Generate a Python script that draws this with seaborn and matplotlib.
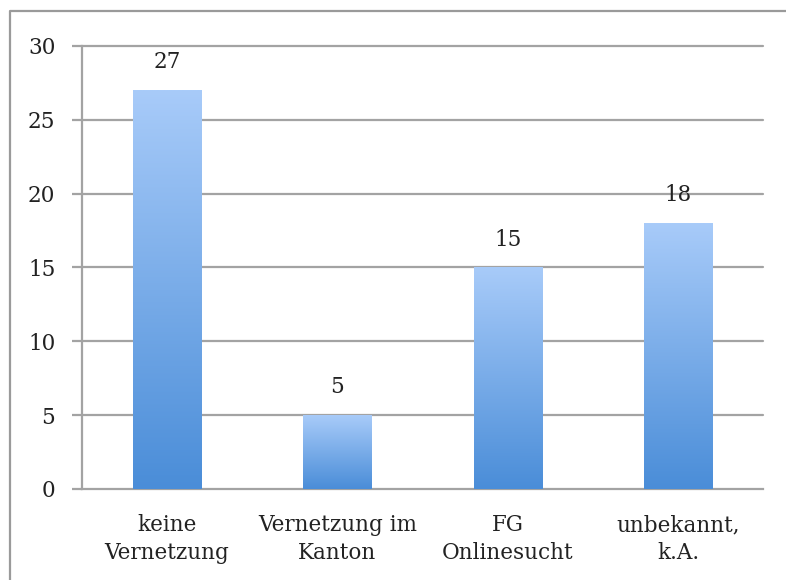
"""Recreate bar chart: Vernetzung"""
import matplotlib
matplotlib.use("Agg")
import matplotlib.pyplot as plt
import numpy as np
import pandas as pd
import seaborn as sns
from matplotlib.colors import LinearSegmentedColormap
from matplotlib.lines import Line2D

categories = ["keine\nVernetzung", "Vernetzung im\nKanton", "FG\nOnlinesucht", "unbekannt,\nk.A."]
values = [27, 5, 15, 18]
y_ticks = [0, 5, 10, 15, 20, 25, 30]

GRID = "#a3a3a3"
TOP_COLOR = "#a8cbf9"
BOTTOM_COLOR = "#4a8dd8"
FS = 15.5

sns.set_style("white")
plt.rcParams["font.family"] = ["DejaVu Serif"]

df = pd.DataFrame({"cat": categories, "val": values})

fig = plt.figure(figsize=(7.86, 5.80), dpi=100)
ax = fig.add_axes([0.104, 0.157, 0.867, 0.764])

sns.barplot(data=df, x="cat", y="val", width=0.4, color=BOTTOM_COLOR, ax=ax, zorder=3)

# vertical gradient for each bar
cmap = LinearSegmentedColormap.from_list("grad", [BOTTOM_COLOR, TOP_COLOR])
grad = np.linspace(0, 1, 256).reshape(-1, 1)
for patch in ax.patches:
    x0, y0 = patch.get_x(), patch.get_y()
    w, h = patch.get_width(), patch.get_height()
    im = ax.imshow(grad, cmap=cmap, origin="lower", aspect="auto",
                   extent=[x0, x0 + w, y0, y0 + h], zorder=4)
    im.set_clip_path(patch)
    patch.set_facecolor("none")
    patch.set_edgecolor("none")
    ax.annotate(f"{int(h)}", (x0 + w / 2, h), xytext=(0, 12), textcoords="offset points",
                ha="center", va="bottom", fontsize=FS, color="#222222")

ax.set_xlim(-0.5, len(categories) - 0.5)
ax.set_ylim(0, 30)
ax.set_yticks(y_ticks)
ax.set_yticklabels([str(t) for t in y_ticks])
ax.set_xlabel("")
ax.set_ylabel("")

for t in y_ticks[1:]:
    ax.axhline(t, color=GRID, lw=1.6, zorder=1, clip_on=False)

for side in ["top", "right"]:
    ax.spines[side].set_visible(False)
for side in ["left", "bottom"]:
    ax.spines[side].set_color(GRID)
    ax.spines[side].set_linewidth(1.6)

ax.set_xticks(np.arange(-0.5, len(categories)), minor=True)
ax.tick_params(axis="x", which="major", length=0, pad=18, labelsize=FS, colors="#222222")
ax.tick_params(axis="x", which="minor", length=7, width=1.6, color=GRID, direction="out")
ax.tick_params(axis="y", length=7, width=1.6, color=GRID, direction="out", pad=12,
               labelsize=FS, labelcolor="#222222", left=True)
for lbl in ax.get_xticklabels():
    lbl.set_linespacing(1.35)

# outer frame (top and left only)
fig.add_artist(Line2D([0.0127, 0.0127, 1.02], [-0.02, 0.981, 0.981],
                      transform=fig.transFigure, color="#9a9a9a", lw=1.6))

fig.savefig("out.png", dpi=100)
